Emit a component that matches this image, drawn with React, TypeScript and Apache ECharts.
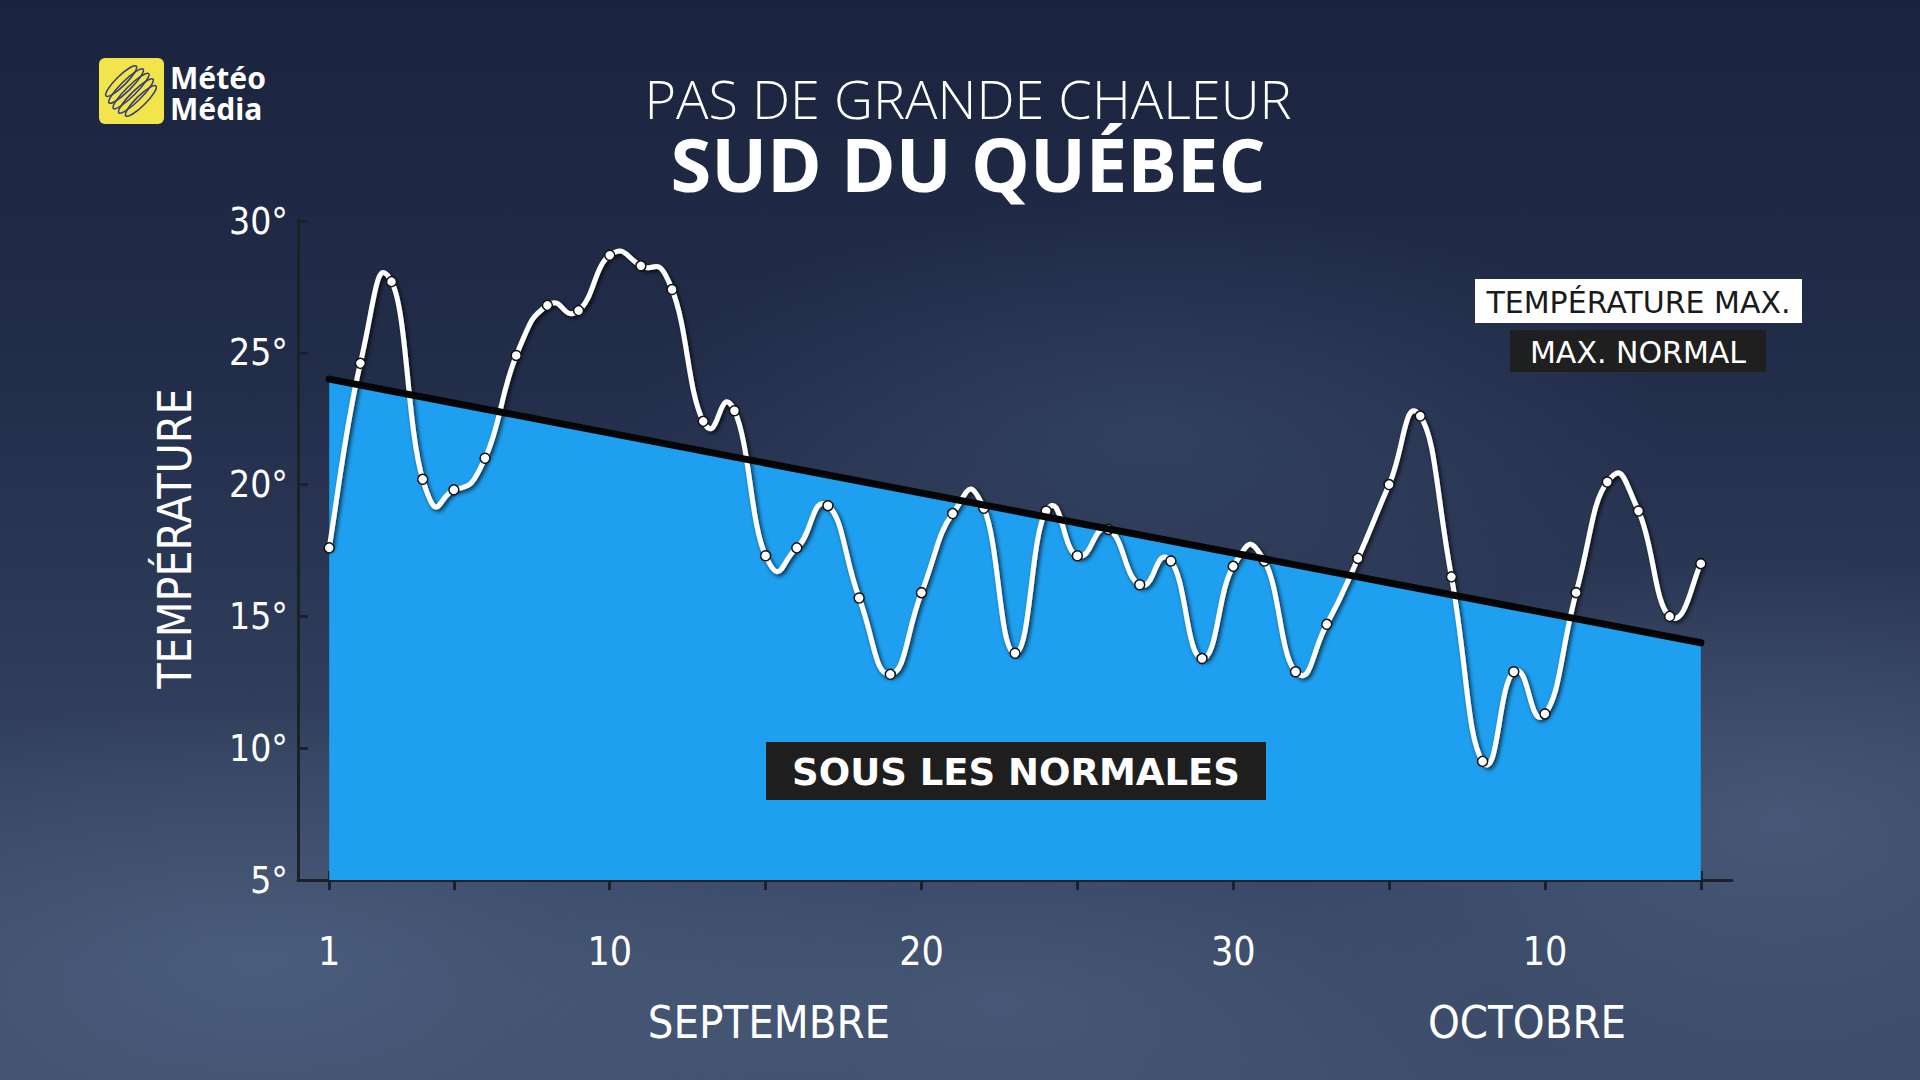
import React, { useEffect, useRef } from "react";
import * as echarts from "echarts";

// ---------- DATA ----------
const days = [
  1, 2, 3, 4, 5, 6, 7, 8, 9, 10, 11, 12, 13, 14, 15, 16, 17, 18, 19, 20, 21, 22, 23,
  24, 25, 26, 27, 28, 29, 30, 31, 32, 33, 34, 35, 36, 37, 38, 39, 40, 41, 42, 43, 44, 45,
];
const maxTemps = [
  17.6, 24.6, 27.7, 20.2, 19.8, 21.0, 24.9, 26.8, 26.6, 28.7, 28.3, 27.4, 22.4, 22.8, 17.3,
  17.6, 19.2, 15.7, 12.8, 15.9, 18.9, 19.1, 13.6, 19.0, 17.3, 18.3, 16.2, 17.1, 13.4, 16.9,
  17.1, 12.9, 14.7, 17.2, 20.0, 22.6, 16.5, 9.5, 12.9, 11.3, 15.9, 20.1, 19.0, 15.0, 17.0,
];
const normalDays = [1, 45];
const normalValues = [24, 14];

const tickDays = [1, 5, 10, 15, 20, 25, 30, 35, 40, 45];
const labelDays = [1, 10, 20, 30, 40];
const labelTexts = ["1", "10", "20", "30", "10"];
const monthNames = ["SEPTEMBRE", "OCTOBRE"];

const AXIS_FONT = '"DejaVu Sans Condensed", "Open Sans", sans-serif';
const AXIS_COLOR = "#1b2029";
const SPLINE_K = 0.25;

export default function App() {
  const ref = useRef<HTMLDivElement>(null);

  useEffect(() => {
    if (!ref.current) return;
    const chart = echarts.init(ref.current, null, { renderer: "svg" });

    const tempData = days.map((d, i) => [d, maxTemps[i]]);
    const normalData = normalDays.map((d, i) => [d, normalValues[i]]);

    const globe: any[] = [];
    [-2, -1, 0, 1, 2].forEach((k) => {
      globe.push({
        type: "ellipse",
        shape: { cx: 0, cy: k * 7, rx: Math.sqrt(27 * 27 - k * 7 * k * 7) * 0.92, ry: 5 },
        style: { fill: "none", stroke: "#363f78", lineWidth: 1.6 },
      });
    });

    const renderCurve = (params: any, api: any) => {
      if (params.dataIndex !== 0) return null;
      const pts = tempData.map((p) => api.coord(p));
      let d = `M${pts[0][0]},${pts[0][1]}`;
      for (let i = 0; i < pts.length - 1; i++) {
        const p0 = pts[i - 1] || pts[i];
        const p1 = pts[i];
        const p2 = pts[i + 1];
        const p3 = pts[i + 2] || pts[i + 1];
        const c1x = p1[0] + (p2[0] - p0[0]) * SPLINE_K;
        const c1y = p1[1] + (p2[1] - p0[1]) * SPLINE_K;
        const c2x = p2[0] - (p3[0] - p1[0]) * SPLINE_K;
        const c2y = p2[1] - (p3[1] - p1[1]) * SPLINE_K;
        d += ` C${c1x},${c1y} ${c2x},${c2y} ${p2[0]},${p2[1]}`;
      }
      return {
        type: "path",
        shape: { pathData: d },
        style: {
          fill: "none",
          stroke: "#ffffff",
          lineWidth: 5,
          lineCap: "round",
          lineJoin: "round",
          shadowColor: "rgba(0,0,0,0.75)",
          shadowBlur: 4,
          shadowOffsetX: 2,
          shadowOffsetY: 2,
        },
      };
    };

    const option: any = {
      animation: false,
      backgroundColor: "transparent",
      grid: { left: 298, right: 188, top: 221, bottom: 200, containLabel: false },
      xAxis: [
        {
          type: "value",
          min: 0,
          max: 46,
          axisLine: { show: true, lineStyle: { color: AXIS_COLOR, width: 3 } },
          axisTick: {
            show: true,
            customValues: tickDays,
            inside: false,
            length: 10,
            lineStyle: { color: AXIS_COLOR, width: 3 },
          },
          axisLabel: {
            customValues: labelDays,
            formatter: (v: number) => {
              const idx = labelDays.indexOf(v);
              return idx >= 0 ? labelTexts[idx] : "";
            },
            color: "#ffffff",
            fontSize: 39,
            fontFamily: AXIS_FONT,
            margin: 52,
          },
          splitLine: { show: false },
        },
        {
          type: "value",
          position: "bottom",
          min: 0,
          max: 46,
          axisLine: { show: false },
          axisTick: {
            show: true,
            customValues: tickDays,
            inside: true,
            length: 9,
            lineStyle: { color: AXIS_COLOR, width: 3 },
          },
          axisLabel: { show: false },
          splitLine: { show: false },
        },
      ],
      yAxis: {
        type: "value",
        min: 5,
        max: 30,
        interval: 5,
        name: "TEMPÉRATURE",
        nameLocation: "middle",
        nameRotate: 90,
        nameGap: 100,
        nameTextStyle: {
          color: "#ffffff",
          fontSize: 46,
          fontFamily: AXIS_FONT,
          padding: [0, 0, 0, 24],
        },
        axisLine: { show: true, lineStyle: { color: AXIS_COLOR, width: 3 } },
        axisTick: { show: true, inside: true, length: 10, lineStyle: { color: AXIS_COLOR, width: 3 } },
        axisLabel: {
          formatter: "{value}°",
          color: "#ffffff",
          fontSize: 37,
          fontFamily: AXIS_FONT,
          margin: 10,
        },
        splitLine: { show: false },
      },
      series: [
        {
          name: "zone",
          type: "line",
          data: normalData,
          symbol: "none",
          silent: true,
          lineStyle: { width: 0, opacity: 0 },
          areaStyle: { color: "#1e9fef", opacity: 1, origin: "start" },
          z: 1,
        },
        {
          name: "TEMPÉRATURE MAX.",
          type: "custom",
          data: tempData,
          renderItem: renderCurve,
          silent: true,
          z: 2,
        },
        {
          name: "TEMPÉRATURE MAX. points",
          type: "scatter",
          data: tempData,
          symbol: "circle",
          symbolSize: 10,
          itemStyle: { color: "#ffffff", borderColor: "#111111", borderWidth: 1.5, opacity: 1 },
          z: 3,
        },
        {
          name: "MAX. NORMAL",
          type: "line",
          data: normalData,
          symbol: "none",
          lineStyle: { color: "#050505", width: 7, cap: "round" },
          z: 4,
        },
      ],
      graphic: [
        // logo
        {
          type: "rect",
          shape: { x: 99, y: 58, width: 65, height: 66, r: 6 },
          style: { fill: "#f2e54b" },
        },
        { type: "group", x: 131, y: 91, rotation: 0.78, children: globe },
        {
          type: "text",
          x: 170,
          y: 77,
          style: {
            text: "Météo",
            fill: "#ffffff",
            font: 'bold 30px "Noto Sans", sans-serif',
            lineHeight: 30,
            textAlign: "left",
            textVerticalAlign: "middle",
          },
        },
        {
          type: "text",
          x: 170,
          y: 108,
          style: {
            text: "Média",
            fill: "#ffffff",
            font: 'bold 30px "Noto Sans", sans-serif',
            lineHeight: 30,
            textAlign: "left",
            textVerticalAlign: "middle",
          },
        },
        // titles (one block, two lines)
        {
          type: "text",
          x: 968,
          y: 131,
          style: {
            text: "{a|PAS DE GRANDE CHALEUR}\n{b|SUD DU QUÉBEC}",
            fill: "#ffffff",
            textAlign: "center",
            textVerticalAlign: "middle",
            rich: {
              a: {
                fill: "#ffffff",
                fontFamily: '"Open Sans", sans-serif',
                fontWeight: 300,
                fontSize: 54,
                lineHeight: 64,
              },
              b: {
                fill: "#ffffff",
                fontFamily: '"Open Sans", sans-serif',
                fontWeight: "bold",
                fontSize: 74,
                lineHeight: 66,
              },
            },
          },
        },
        // legend boxes
        {
          type: "rect",
          shape: { x: 1475, y: 279, width: 327, height: 44 },
          style: { fill: "#ffffff" },
        },
        {
          type: "text",
          x: 1638.5,
          y: 302,
          style: {
            text: "TEMPÉRATURE MAX.",
            fill: "#1a1a1a",
            font: '30px "DejaVu Sans", sans-serif',
            textAlign: "center",
            textVerticalAlign: "middle",
          },
        },
        {
          type: "rect",
          shape: { x: 1510, y: 330, width: 256, height: 42 },
          style: { fill: "#1f1f1f" },
        },
        {
          type: "text",
          x: 1638,
          y: 352,
          style: {
            text: "MAX. NORMAL",
            fill: "#ffffff",
            font: '30px "DejaVu Sans", sans-serif',
            textAlign: "center",
            textVerticalAlign: "middle",
          },
        },
        // below-normal label
        {
          type: "rect",
          shape: { x: 766, y: 742, width: 500, height: 58 },
          style: { fill: "#1e1e1e" },
          z: 10,
        },
        {
          type: "text",
          x: 1016,
          y: 772,
          z: 11,
          style: {
            text: "SOUS LES NORMALES",
            fill: "#ffffff",
            font: 'bold 37px "DejaVu Sans", sans-serif',
            textAlign: "center",
            textVerticalAlign: "middle",
          },
        },
        // month labels
        {
          type: "text",
          x: 769,
          y: 1022,
          style: {
            text: monthNames[0],
            fill: "#ffffff",
            font: "45px " + AXIS_FONT,
            textAlign: "center",
            textVerticalAlign: "middle",
          },
        },
        {
          type: "text",
          x: 1527,
          y: 1022,
          style: {
            text: monthNames[1],
            fill: "#ffffff",
            font: "45px " + AXIS_FONT,
            textAlign: "center",
            textVerticalAlign: "middle",
          },
        },
      ],
    };

    chart.setOption(option);
    return () => chart.dispose();
  }, []);

  return (
    <div
      ref={ref}
      style={{
        position: "fixed",
        left: 0,
        top: 0,
        width: 1920,
        height: 1080,
        background:
          "radial-gradient(ellipse 520px 230px at 1150px 430px, rgba(70,90,124,0.4), rgba(70,90,124,0) 100%)," +
          "radial-gradient(ellipse 650px 260px at 260px 960px, rgba(92,112,146,0.5), rgba(92,112,146,0) 100%)," +
          "radial-gradient(ellipse 520px 260px at 1780px 820px, rgba(92,112,146,0.45), rgba(92,112,146,0) 100%)," +
          "radial-gradient(ellipse 500px 200px at 1000px 1000px, rgba(92,112,146,0.35), rgba(92,112,146,0) 100%)," +
          "linear-gradient(180deg, #1b243e 0%, #222d4a 35%, #33425f 72%, #3d4d6b 100%)",
      }}
    />
  );
}
